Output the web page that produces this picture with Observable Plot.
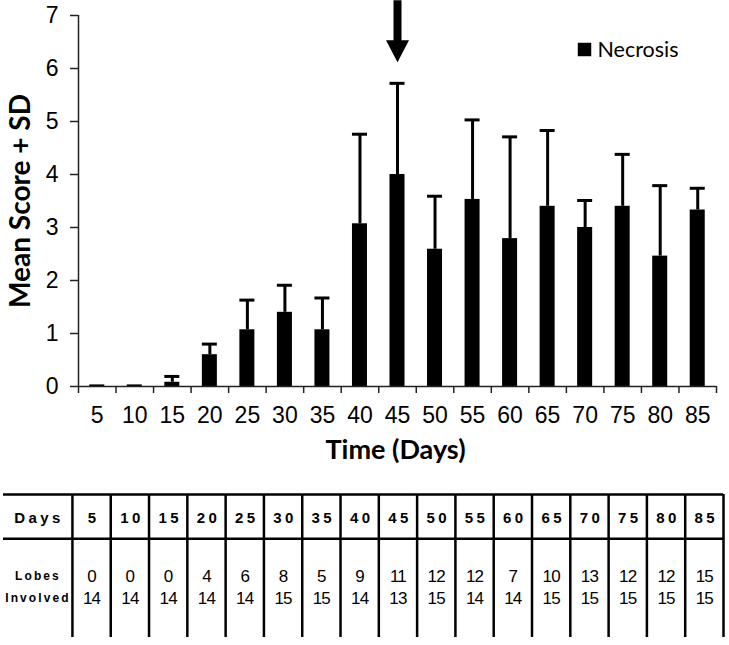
<!DOCTYPE html>
<html>
<head>
<meta charset="utf-8">
<script src="https://cdn.jsdelivr.net/npm/d3@7"></script>
<script src="https://cdn.jsdelivr.net/npm/@observablehq/plot@0.6"></script>
<style>
  body { margin: 0; background: #fff; }
  #chart { width: 729px; height: 645px; position: relative; background: #fff; }
  #chart svg { display: block; }
  #chart g[font-size="15"] text { letter-spacing: 3.4px; }
  #chart g[font-size="12"] text { letter-spacing: 2.1px; }
  #chart g[font-size="17"] text { letter-spacing: -0.8px; }
</style>
</head>
<body>
<div id="chart"></div>
<script>
// ---- data ----
const days = [5, 10, 15, 20, 25, 30, 35, 40, 45, 50, 55, 60, 65, 70, 75, 80, 85];
const meanScore = [0.03, 0.03, 0.08, 0.60, 1.07, 1.40, 1.07, 3.07, 4.00, 2.59, 3.53, 2.79, 3.40, 3.00, 3.40, 2.46, 3.33];
const sdScore   = [0.00, 0.00, 0.11, 0.20, 0.56, 0.51, 0.60, 1.69, 1.72, 1.00, 1.50, 1.92, 1.43, 0.51, 0.98, 1.33, 0.41];
const seriesName = ["Necrosis"];
const yTicks = [0, 1, 2, 3, 4, 5, 6, 7];
const arrowMark = [{day: 45, tip: 6.12}];
const yLabel = ["Mean Score + SD"];
const xLabel = ["Time (Days)"];

// table
const tableRowLabels = ["Days", "Lobes", "Involved"];
const lobesInvolved = [0, 0, 0, 4, 6, 8, 5, 9, 11, 12, 12, 7, 10, 13, 12, 12, 15];
const lobesTotal    = [14, 14, 14, 14, 14, 15, 15, 14, 13, 15, 14, 14, 15, 15, 15, 15, 15];

// ---- derived ----
const rows = days.map((d, i) => ({day: d, mean: meanScore[i], sd: sdScore[i]}));
const step = days[1] - days[0];
const half = 1; // half bar width in day units
const xDomain = [days[0] - step / 2, days[days.length - 1] + step / 2];
const boundaries = days.map(d => d - step / 2).concat([xDomain[1]]);

const downArrow = {
  draw(ctx) {
    ctx.moveTo(0, 0);
    ctx.lineTo(-11.5, -22);
    ctx.lineTo(-4, -22);
    ctx.lineTo(-4, -62);
    ctx.lineTo(4, -62);
    ctx.lineTo(4, -22);
    ctx.lineTo(11.5, -22);
    ctx.closePath();
  }
};

const chart = Plot.plot({
  width: 729,
  height: 490,
  marginLeft: 78,
  marginRight: 13,
  marginTop: 15,
  marginBottom: 104,
  x: {type: "linear", domain: xDomain},
  y: {domain: [0, 7]},
  style: {fontFamily: "'Liberation Sans', Arial, sans-serif", color: "#000", background: "#fff", overflow: "visible"},
  marks: [
    Plot.rect(rows, {x1: d => d.day - half, x2: d => d.day + half, y1: 0, y2: "mean", fill: "#000"}),
    Plot.ruleX(rows.filter(d => d.sd > 0), {x: "day", y1: "mean", y2: d => d.mean + d.sd, stroke: "#000", strokeWidth: 3}),
    Plot.ruleY(rows.filter(d => d.sd > 0), {y: d => d.mean + d.sd, x1: d => d.day - half, x2: d => d.day + half, stroke: "#000", strokeWidth: 3}),
    Plot.ruleX(xDomain.slice(0, 1), {stroke: "#222", strokeWidth: 1.5}),
    Plot.ruleY([0], {stroke: "#222", strokeWidth: 1.5}),
    Plot.axisY({ticks: yTicks, tickFormat: d3.format("d"), tickSize: 8, tickPadding: 12, fontSize: 23, label: null, stroke: "#222", strokeWidth: 1.5}),
    Plot.axisX({ticks: boundaries, tickSize: 7, tickFormat: () => "", label: null, stroke: "#222", strokeWidth: 1.5}),
    Plot.axisX({ticks: days, tickFormat: d3.format("d"), tickSize: 0, tickPadding: 20, fontSize: 23, label: null}),
    Plot.dot(arrowMark, {x: "day", y: "tip", symbol: downArrow, r: 10, fill: "#000", stroke: "none"}),
    Plot.text(yLabel, {frameAnchor: "left", rotate: -90, dx: -57, textAnchor: "middle", lineAnchor: "middle",
      fontSize: 28, fontWeight: 700, fontFamily: "Lato, sans-serif", text: d => d}),
    Plot.text(xLabel, {frameAnchor: "bottom", dx: -2, dy: 64, textAnchor: "middle", lineAnchor: "middle",
      fontSize: 27, fontWeight: 700, fontFamily: "Lato, sans-serif", text: d => d}),
    Plot.dot(seriesName, {frameAnchor: "top-left", dx: 506, dy: 34, symbol: "square", r: 7.6, fill: "#000", stroke: "none"}),
    Plot.text(seriesName, {frameAnchor: "top-left", dx: 519, dy: 35, text: d => d, textAnchor: "start", lineAnchor: "middle",
      fontSize: 21.5, fontFamily: "Lato, sans-serif"})
  ]
});

// ---- table ----
const labelUnits = 1.8;
const bodyUnits = 3.23;
const colLines = d3.range(0, days.length + 1);
const headerY = 0.524, lobesY = 1.85, involvedY = 2.34;
const labelRows = [
  {label: tableRowLabels[1], y: lobesY},
  {label: tableRowLabels[2], y: involvedY}
];

const table = Plot.plot({
  width: 729,
  height: 155,
  marginLeft: 3,
  marginRight: 6,
  marginTop: 4,
  marginBottom: 8,
  x: {type: "linear", domain: [-labelUnits, days.length], axis: null},
  y: {type: "linear", domain: [0, bodyUnits], reverse: true, axis: null},
  style: {fontFamily: "'Liberation Sans', Arial, sans-serif", color: "#000", background: "#fff", overflow: "visible"},
  marks: [
    Plot.ruleY([0, 1], {stroke: "#000", strokeWidth: 2.5}),
    Plot.ruleX(colLines, {stroke: "#000", strokeWidth: 2.5}),
    Plot.text(days, {x: (d, i) => i + 0.5, y: headerY, text: d => String(d), fontSize: 15, fontWeight: 700,
      dx: 2, lineAnchor: "middle"}),
    Plot.text(tableRowLabels.slice(0, 1), {x: -labelUnits / 2, y: headerY, text: d => d, fontSize: 15, fontWeight: 700,
      dx: 1, lineAnchor: "middle"}),
    Plot.text(labelRows, {x: -labelUnits / 2, y: "y", text: "label", fontSize: 12, fontWeight: 700,
      dx: 0, lineAnchor: "middle"}),
    Plot.text(lobesInvolved, {x: (d, i) => i + 0.5, y: lobesY, text: d => String(d), fontSize: 17, lineAnchor: "middle"}),
    Plot.text(lobesTotal, {x: (d, i) => i + 0.5, y: involvedY, text: d => String(d), fontSize: 17, lineAnchor: "middle"})
  ]
});

const container = document.getElementById("chart");
container.appendChild(chart);
container.appendChild(table);
</script>
</body>
</html>
